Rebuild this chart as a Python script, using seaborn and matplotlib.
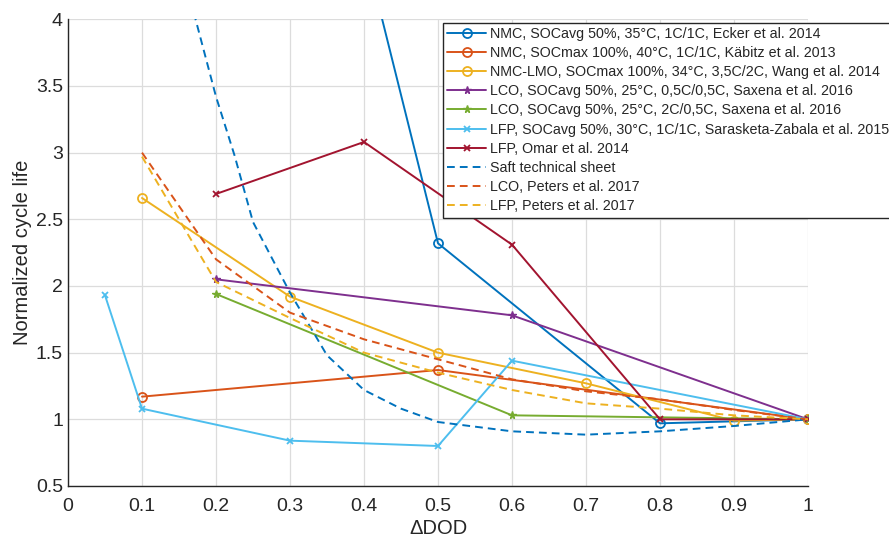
import matplotlib
matplotlib.use("Agg")
import matplotlib.pyplot as plt
import seaborn as sns
import pandas as pd

# ---- data ----
ecker_x = [0.2, 0.5, 0.8, 1.0]
ecker_y = [9.0, 2.32, 0.97, 1.0]

kabitz_x = [0.1, 0.5, 1.0]
kabitz_y = [1.17, 1.37, 1.0]

wang_x = [0.1, 0.3, 0.5, 0.7, 0.9, 1.0]
wang_y = [2.66, 1.92, 1.50, 1.27, 0.99, 1.0]

saxena05_x = [0.2, 0.6, 1.0]
saxena05_y = [2.05, 1.78, 1.0]

saxena2_x = [0.2, 0.6, 1.0]
saxena2_y = [1.94, 1.03, 1.0]

saras_x = [0.05, 0.1, 0.3, 0.5, 0.6, 1.0]
saras_y = [1.93, 1.08, 0.84, 0.80, 1.44, 1.0]

omar_x = [0.2, 0.4, 0.6, 0.8, 1.0]
omar_y = [2.69, 3.08, 2.31, 1.0, 1.0]

saft_x = [0.17, 0.2, 0.225, 0.25, 0.3, 0.35, 0.4, 0.45, 0.5, 0.6, 0.7, 0.8, 0.9, 1.0]
saft_y = [4.05, 3.42, 2.98, 2.48, 1.95, 1.48, 1.22, 1.08, 0.98, 0.91, 0.885, 0.91, 0.95, 1.0]

peters_lco_x = [0.1, 0.15, 0.2, 0.3, 0.4, 0.5, 0.6, 0.7, 0.8, 0.9, 1.0]
peters_lco_y = [3.0, 2.6, 2.2, 1.8, 1.6, 1.45, 1.3, 1.21, 1.15, 1.07, 1.0]

peters_lfp_x = [0.1, 0.15, 0.2, 0.3, 0.4, 0.5, 0.6, 0.7, 0.8, 0.9, 1.0]
peters_lfp_y = [2.97, 2.5, 2.03, 1.76, 1.5, 1.35, 1.22, 1.12, 1.08, 1.03, 1.0]

labels = [
    "NMC, SOCavg 50%, 35°C, 1C/1C, Ecker et al. 2014",
    "NMC, SOCmax 100%, 40°C, 1C/1C, Käbitz et al. 2013",
    "NMC-LMO, SOCmax 100%, 34°C, 3,5C/2C, Wang et al. 2014",
    "LCO, SOCavg 50%, 25°C, 0,5C/0,5C, Saxena et al. 2016",
    "LCO, SOCavg 50%, 25°C, 2C/0,5C, Saxena et al. 2016",
    "LFP, SOCavg 50%, 30°C, 1C/1C, Sarasketa-Zabala et al. 2015",
    "LFP, Omar et al. 2014",
    "Saft technical sheet",
    "LCO, Peters et al. 2017",
    "LFP, Peters et al. 2017",
]
xticks = [0, 0.1, 0.2, 0.3, 0.4, 0.5, 0.6, 0.7, 0.8, 0.9, 1]
xticklabels = ["0", "0.1", "0.2", "0.3", "0.4", "0.5", "0.6", "0.7", "0.8", "0.9", "1"]
yticks = [0.5, 1, 1.5, 2, 2.5, 3, 3.5, 4]
yticklabels = ["0.5", "1", "1.5", "2", "2.5", "3", "3.5", "4"]

# ---- style ----
sns.set_style("white")
plt.rcParams["font.family"] = ["Liberation Sans", "DejaVu Sans"]

c_blue = "#0072BD"
c_orange = "#D95319"
c_yellow = "#EDB120"
c_purple = "#7E2F8E"
c_green = "#77AC30"
c_lblue = "#4DBEEE"
c_red = "#A2142F"

series = [
    (ecker_x, ecker_y, c_blue, "o", "-"),
    (kabitz_x, kabitz_y, c_orange, "o", "-"),
    (wang_x, wang_y, c_yellow, "o", "-"),
    (saxena05_x, saxena05_y, c_purple, "*", "-"),
    (saxena2_x, saxena2_y, c_green, "*", "-"),
    (saras_x, saras_y, c_lblue, "x", "-"),
    (omar_x, omar_y, c_red, "x", "-"),
    (saft_x, saft_y, c_blue, None, "--"),
    (peters_lco_x, peters_lco_y, c_orange, None, "--"),
    (peters_lfp_x, peters_lfp_y, c_yellow, None, "--"),
]

fig = plt.figure(figsize=(8.89, 5.40), dpi=100)
ax = fig.add_axes([68 / 889, 1 - 486 / 540, 740 / 889, (486 - 19.3) / 540])

for (xs, ys, col, mk, ls), lab in zip(series, labels):
    df = pd.DataFrame({"x": xs, "y": ys})
    kw = dict(color=col, linewidth=1.4, label=lab, ax=ax, estimator=None, sort=False)
    if ls == "--":
        kw["linestyle"] = (0, (4.0, 2.6))
    if mk is not None:
        kw["marker"] = mk
        kw["mec"] = col
        if mk == "o":
            kw["mfc"] = "none"
            kw["markersize"] = 6.5
            kw["mew"] = 1.3
        elif mk == "x":
            kw["markersize"] = 5
            kw["mew"] = 1.3
        else:
            kw["mfc"] = col
            kw["markersize"] = 5.5
            kw["mew"] = 1.0
    sns.lineplot(data=df, x="x", y="y", **kw)

ax.set_xlim(0, 1)
ax.set_ylim(0.5, 4)
ax.set_xticks(xticks)
ax.set_xticklabels(xticklabels)
ax.set_yticks(yticks)
ax.set_yticklabels(yticklabels)
ax.grid(True, color="#dcdcdc", linewidth=0.9)
ax.set_axisbelow(True)
for s in ["top", "right"]:
    ax.spines[s].set_visible(False)
for s in ["left", "bottom"]:
    ax.spines[s].set_color("#262626")
    ax.spines[s].set_linewidth(1.0)
ax.tick_params(direction="in", length=5, width=1.0, color="#262626",
               labelsize=14, labelcolor="#262626")
ax.tick_params(axis="y", pad=3.6)
ax.tick_params(axis="x", pad=8.5)
ax.set_xlabel("ΔDOD", fontsize=14.5, color="#262626", labelpad=3)
ax.set_ylabel("Normalized cycle life", fontsize=14.5, color="#262626", labelpad=3)

leg = ax.legend(loc="upper left", bbox_to_anchor=(0.507, 0.993), fontsize=10.3,
                frameon=True, fancybox=False, edgecolor="#262626", framealpha=1,
                handlelength=2.7, handletextpad=0.3, labelspacing=0.36,
                borderpad=0.3, borderaxespad=0.0)
leg.get_frame().set_linewidth(1.0)

fig.savefig("out.png", dpi=100)
